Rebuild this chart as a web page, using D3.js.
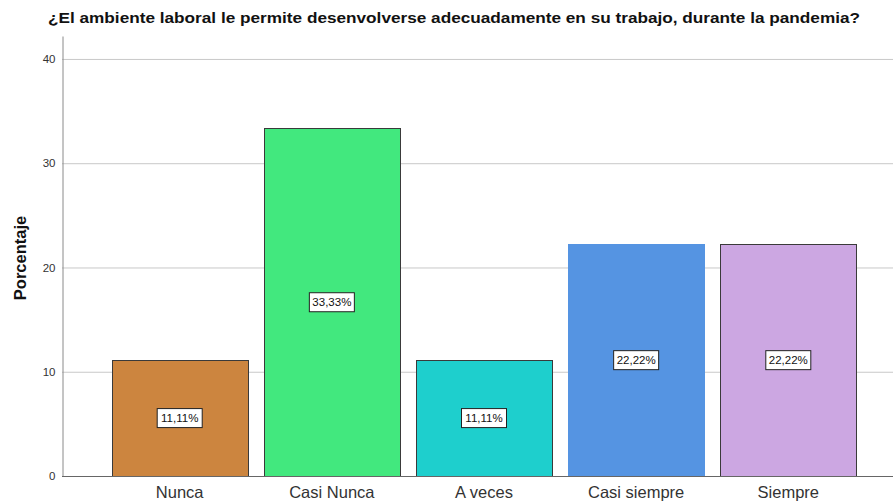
<!DOCTYPE html>
<html>
<head>
<meta charset="utf-8">
<script src="https://cdn.jsdelivr.net/npm/d3@7"></script>
<style>
  body { margin: 0; background: #fff; }
  svg { display: block; font-family: "Liberation Sans", Arial, sans-serif; }
</style>
</head>
<body>
<svg width="893" height="503"></svg>
<script>
// datos del grafico
var categorias = ["Nunca", "Casi Nunca", "A veces", "Casi siempre", "Siempre"];
var porcentajes = [11.11, 33.33, 11.11, 22.22, 22.22];
var etiquetas = ["11,11%", "33,33%", "11,11%", "22,22%", "22,22%"];
var colores = ["#cc853f", "#42e87e", "#1ecfcd", "#5594e2", "#cca7e2"];
var ticksY = [0, 10, 20, 30, 40];

var svg = d3.select("svg");

var x = d3.scaleBand()
    .domain(categorias)
    .range([104, 864])
    .paddingInner(0.105)
    .paddingOuter(0.05);

var y = d3.scaleLinear()
    .domain([0, 42.2])
    .range([476, 36]);

// lineas de cuadricula
svg.append("g")
    .selectAll("line")
    .data(ticksY.filter(function (d) { return d > 0; }))
    .enter().append("line")
    .attr("x1", 62).attr("x2", 893)
    .attr("y1", function (d) { return y(d) + 0.5; })
    .attr("y2", function (d) { return y(d) + 0.5; })
    .attr("stroke", "#c8c8c8")
    .attr("stroke-width", 1);

// eje y
var ejeY = svg.append("g")
    .attr("transform", "translate(62.5,0)")
    .call(d3.axisLeft(y).tickValues(ticksY).tickSize(0).tickPadding(7));
ejeY.select(".domain").attr("stroke", "#8a8a8a");
ejeY.selectAll("text").attr("font-size", 11.5).attr("fill", "#333")
    .attr("font-family", "Liberation Sans, Arial, sans-serif");

// barras
svg.append("g")
    .selectAll("rect")
    .data(categorias)
    .enter().append("rect")
    .attr("x", function (d) { return Math.round(x(d)) + 0.5; })
    .attr("y", function (d, i) { return Math.round(y(porcentajes[i])) + 0.5; })
    .attr("width", Math.round(x.bandwidth()))
    .attr("height", function (d, i) { return Math.round(y(0)) - Math.round(y(porcentajes[i])); })
    .attr("fill", function (d, i) { return colores[i]; })
    .attr("stroke", function (d, i) { return i === 3 ? colores[i] : "#3a3a3a"; })
    .attr("stroke-width", 1);

// eje x
var ejeX = svg.append("g")
    .attr("transform", "translate(0,476.5)")
    .call(d3.axisBottom(x).tickSize(0).tickPadding(10));
ejeX.select(".domain").remove();
svg.append("line")
    .attr("x1", 62).attr("x2", 893)
    .attr("y1", 476.5).attr("y2", 476.5)
    .attr("stroke", "#666");
ejeX.selectAll("text").attr("font-size", 16.5).attr("fill", "#333")
    .attr("font-family", "Liberation Sans, Arial, sans-serif");

// etiquetas de valor
var etiq = svg.append("g")
    .selectAll("g")
    .data(categorias)
    .enter().append("g")
    .attr("transform", function (d, i) {
        return "translate(" + (x(d) + x.bandwidth() / 2) + "," + y(porcentajes[i] / 2) + ")";
    });
etiq.append("rect")
    .attr("x", -22.5).attr("y", -9.5)
    .attr("width", 45).attr("height", 19)
    .attr("fill", "#fff")
    .attr("stroke", "#222");
etiq.append("text")
    .attr("text-anchor", "middle")
    .attr("dy", "0.36em")
    .attr("font-size", 11.5)
    .attr("fill", "#111")
    .text(function (d, i) { return etiquetas[i]; });

// titulo
svg.append("text")
    .attr("x", 454)
    .attr("y", 23)
    .attr("text-anchor", "middle")
    .attr("font-size", 15.5)
    .attr("font-weight", "bold")
    .attr("fill", "#111")
    .attr("textLength", 812)
    .attr("lengthAdjust", "spacingAndGlyphs")
    .text("¿El ambiente laboral le permite desenvolverse adecuadamente en su trabajo, durante la pandemia?");

// titulo eje y
svg.append("text")
    .attr("transform", "translate(26,258) rotate(-90)")
    .attr("text-anchor", "middle")
    .attr("font-size", 16.5)
    .attr("font-weight", "bold")
    .attr("fill", "#111")
    .text("Porcentaje");
</script>
</body>
</html>
